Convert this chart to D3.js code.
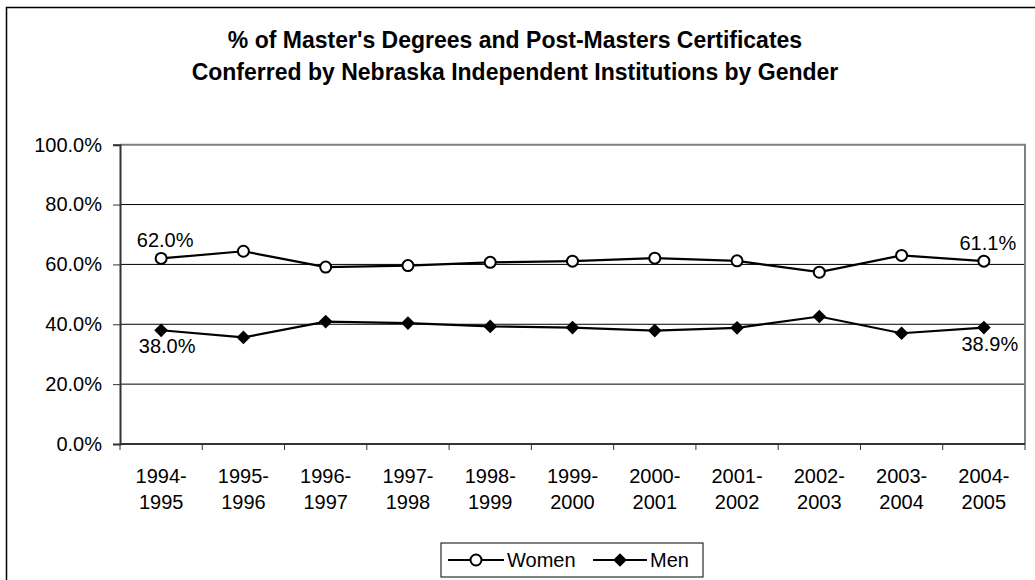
<!DOCTYPE html>
<html>
<head>
<meta charset="utf-8">
<script src="https://cdn.jsdelivr.net/npm/d3@7"></script>
<style>
  body { margin: 0; background: #fff; }
  svg { display: block; font-family: "Liberation Sans", Arial, sans-serif; }
</style>
</head>
<body>
<svg id="chart" width="1035" height="580"></svg>
<script>
'use strict';

// school years, values as fractions
const years = ["1994-1995", "1995-1996", "1996-1997", "1997-1998", "1998-1999", "1999-2000",
	"2000-2001", "2001-2002", "2002-2003", "2003-2004", "2004-2005"];
const women = [0.620, 0.644, 0.591, 0.596, 0.607, 0.611, 0.621, 0.612, 0.574, 0.630, 0.611];
const men = [0.380, 0.356, 0.409, 0.404, 0.393, 0.389, 0.379, 0.388, 0.426, 0.370, 0.389];
const yTicks = [0, 0.2, 0.4, 0.6, 0.8, 1.0];
const titleLines = ["% of Master's Degrees and Post-Masters Certificates",
	"Conferred by Nebraska Independent Institutions by Gender"];

const svg = d3.select("#chart");
const plotL = 120, plotR = 1025, plotT = 144.7, plotB = 444;

const x = d3.scaleBand().domain(years).range([plotL, plotR]);
const y = d3.scaleLinear().domain([0, 1]).range([plotB, plotT]);
const fmt = d3.format(".1%");

// outer chart frame (only top/left visible)
svg.append("path")
	.attr("d", `M6.5,580V7.5H1035`)
	.attr("fill", "none")
	.attr("stroke", "#000")
	.attr("stroke-width", 1.5);

// title
svg.append("g").selectAll("text")
	.data(titleLines)
	.enter().append("text")
	.attr("x", 515)
	.attr("y", (d, i) => 48.3 + i * 31.7)
	.attr("text-anchor", "middle")
	.attr("font-size", 23)
	.attr("font-weight", "bold")
	.text(d => d);

// gridlines
svg.append("g").selectAll("line")
	.data(yTicks.filter(t => t > 0 && t < 1))
	.enter().append("line")
	.attr("x1", plotL).attr("x2", plotR)
	.attr("y1", d => y(d)).attr("y2", d => y(d))
	.attr("stroke", "#000")
	.attr("stroke-width", 1);

// plot area top and right border
svg.append("path")
	.attr("d", `M${plotL},${y(1)}H${plotR}V${plotB}`)
	.attr("fill", "none")
	.attr("stroke", "#808080")
	.attr("stroke-width", 2);

// y axis
const yAxis = svg.append("g")
	.attr("transform", `translate(${plotL},0)`)
	.call(d3.axisLeft(y).tickValues(yTicks).tickFormat(fmt).tickSize(7).tickPadding(11));
yAxis.select(".domain").attr("stroke", "#333").attr("stroke-width", 2);
yAxis.selectAll(".tick line").attr("stroke", "#333");
yAxis.selectAll(".tick text")
	.attr("font-size", 20)
	.attr("font-family", "Liberation Sans, Arial, sans-serif")
	.attr("fill", "#000");

// x axis: labels from band axis, tick marks at band boundaries
const xAxis = svg.append("g")
	.attr("transform", `translate(0,${plotB})`)
	.call(d3.axisBottom(x).tickSize(0).tickPadding(0));
xAxis.select(".domain").remove();
xAxis.selectAll(".tick text").each(function(d) {
	const parts = d.split("-");
	const t = d3.select(this).text(null)
		.attr("font-size", 20)
		.attr("font-family", "Liberation Sans, Arial, sans-serif")
		.attr("fill", "#000")
		.attr("dy", null)
		.attr("y", 0);
	t.append("tspan").attr("x", 0).attr("y", 38.7).text(parts[0] + "-");
	t.append("tspan").attr("x", 0).attr("y", 65.3).text(parts[1]);
});
svg.append("line")
	.attr("x1", plotL).attr("x2", plotR)
	.attr("y1", plotB).attr("y2", plotB)
	.attr("stroke", "#333").attr("stroke-width", 2);
svg.append("g").selectAll("line")
	.data(years.map(d => x(d)).concat([plotR]))
	.enter().append("line")
	.attr("x1", d => d).attr("x2", d => d)
	.attr("y1", plotB).attr("y2", plotB + 6)
	.attr("stroke", "#333").attr("stroke-width", 1);

const cx = d => x(d) + x.bandwidth() / 2;
const line = d3.line().x(d => cx(d.year)).y(d => y(d.v));
const diamond = d3.symbol().type(d3.symbolDiamond2).size(120);

function drawSeries(values, marker) {
	const pts = years.map((yr, i) => ({year: yr, v: values[i]}));
	const g = svg.append("g");
	g.append("path")
		.datum(pts)
		.attr("d", line)
		.attr("fill", "none")
		.attr("stroke", "#000")
		.attr("stroke-width", 2.2);
	if (marker == "circle") {
		g.selectAll("circle").data(pts).enter().append("circle")
			.attr("cx", d => cx(d.year)).attr("cy", d => y(d.v))
			.attr("r", 5.5)
			.attr("fill", "#fff").attr("stroke", "#000").attr("stroke-width", 2);
	} else {
		g.selectAll("path.m").data(pts).enter().append("path")
			.attr("class", "m")
			.attr("transform", d => `translate(${cx(d.year)},${y(d.v)})`)
			.attr("d", diamond)
			.attr("fill", "#000");
	}
	return pts;
}

const wPts = drawSeries(women, "circle");
const mPts = drawSeries(men, "diamond");

// end-point value labels
const ends = [wPts[0], wPts[wPts.length - 1]].map(d => ({d: d, dy: -11, dx: 4}))
	.concat([mPts[0], mPts[mPts.length - 1]].map(d => ({d: d, dy: 23, dx: 6})));
svg.append("g").selectAll("text")
	.data(ends)
	.enter().append("text")
	.attr("x", e => cx(e.d.year) + e.dx)
	.attr("y", e => y(e.d.v) + e.dy)
	.attr("text-anchor", "middle")
	.attr("font-size", 20)
	.text(e => fmt(e.d.v));

// legend
const lg = svg.append("g");
lg.append("rect")
	.attr("x", 441).attr("y", 543)
	.attr("width", 262).attr("height", 34)
	.attr("fill", "#fff").attr("stroke", "#000").attr("stroke-width", 1);
const items = [
	{name: "Women", x0: 448, x1: 504, m: "circle"},
	{name: "Men", x0: 593, x1: 647, m: "diamond"}
];
items.forEach(it => {
	const my = 560;
	lg.append("line")
		.attr("x1", it.x0).attr("x2", it.x1)
		.attr("y1", my).attr("y2", my)
		.attr("stroke", "#000").attr("stroke-width", 2.2);
	const mx = (it.x0 + it.x1) / 2;
	if (it.m == "circle") {
		lg.append("circle").attr("cx", mx).attr("cy", my).attr("r", 5.5)
			.attr("fill", "#fff").attr("stroke", "#000").attr("stroke-width", 2);
	} else {
		lg.append("path").attr("transform", `translate(${mx},${my})`)
			.attr("d", diamond).attr("fill", "#000");
	}
	lg.append("text")
		.attr("x", it.x1 + 3).attr("y", my + 7)
		.attr("font-size", 20)
		.text(it.name);
});
</script>
</body>
</html>
